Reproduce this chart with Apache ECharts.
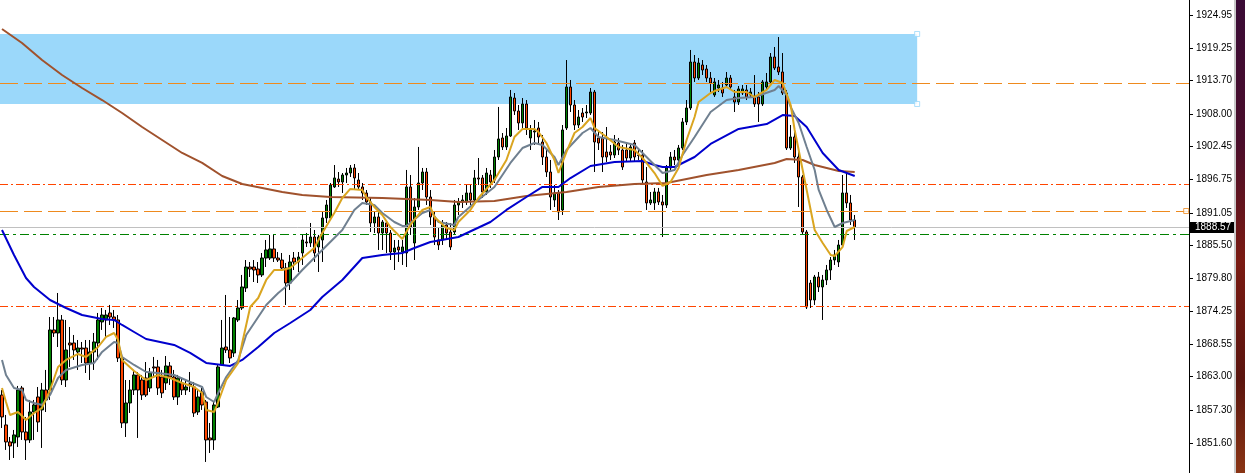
<!DOCTYPE html>
<html><head><meta charset="utf-8">
<script src="https://cdn.jsdelivr.net/npm/echarts@6/dist/echarts.min.js"></script>
<style>html,body{margin:0;padding:0;background:#fff;overflow:hidden}#c{width:1245px;height:473px}</style>
</head><body><div id="c"></div><script>
// ---- candle data (price) ----
const opens=[1859.87,1854.74,1851.83,1851.66,1852.68,1861.07,1853.54,1852.17,1856.96,1859.53,1857.31,1860.73,1860.73,1871.01,1870.49,1872.72,1862.44,1868.78,1868.78,1867.24,1867.92,1867.92,1865.35,1867.24,1868.78,1872.38,1872.72,1873.92,1873.23,1872.72,1866.21,1855.08,1858.50,1860.73,1863.30,1862.44,1862.78,1861.07,1864.67,1864.67,1862.95,1861.93,1864.84,1862.95,1859.53,1861.93,1860.73,1861.76,1861.24,1856.96,1860.39,1858.68,1852.51,1852.17,1857.82,1865.01,1868.09,1867.58,1867.07,1872.72,1874.77,1878.20,1881.79,1881.79,1881.45,1880.43,1883.33,1883.33,1884.88,1883.33,1882.99,1881.62,1879.05,1883.33,1882.65,1884.19,1886.08,1885.91,1886.93,1885.22,1886.42,1890.19,1890.19,1895.50,1896.86,1896.35,1897.55,1897.89,1898.75,1896.69,1895.50,1894.47,1892.93,1889.33,1890.36,1887.62,1889.33,1887.62,1884.36,1885.22,1884.36,1884.19,1895.50,1885.90,1892.07,1896.18,1898.06,1893.78,1890.36,1886.42,1886.42,1888.99,1887.79,1887.79,1892.41,1892.93,1892.93,1894.47,1893.27,1897.04,1897.04,1894.64,1897.55,1896.69,1900.63,1903.89,1902.35,1904.23,1910.73,1908.51,1906.46,1909.71,1903.89,1904.91,1905.60,1903.20,1900.63,1898.06,1893.27,1894.47,1891.56,1905.60,1912.62,1909.54,1906.11,1908.17,1908.17,1908.17,1911.76,1903.89,1903.89,1901.49,1901.49,1900.97,1903.03,1901.83,1901.83,1900.46,1903.03,1900.97,1900.97,1896.35,1892.76,1892.76,1894.64,1892.93,1892.41,1898.75,1900.63,1900.12,1902.17,1906.63,1909.02,1916.90,1914.16,1916.39,1915.70,1914.16,1911.25,1912.45,1912.45,1912.96,1914.16,1910.91,1910.05,1911.59,1912.11,1911.25,1910.91,1910.91,1909.71,1912.62,1913.48,1917.76,1916.05,1915.19,1911.59,1902.17,1904.06,1900.63,1897.21,1887.79,1879.05,1876.14,1880.08,1878.37,1879.57,1881.28,1882.99,1882.65,1885.56,1894.47,1892.76,1889.84];
const closes=[1856.11,1851.83,1851.14,1853.03,1860.73,1853.54,1852.17,1856.96,1858.16,1855.25,1860.73,1859.02,1871.01,1870.49,1872.72,1862.44,1867.58,1868.44,1867.58,1867.92,1867.75,1865.35,1867.24,1868.95,1872.72,1873.57,1873.57,1873.23,1872.72,1866.21,1855.08,1858.50,1860.73,1863.30,1860.73,1859.87,1859.87,1863.64,1864.50,1861.07,1860.22,1864.84,1862.95,1859.53,1862.78,1860.73,1861.24,1861.59,1856.79,1859.53,1858.16,1852.17,1852.17,1858.16,1864.67,1867.92,1867.58,1866.21,1873.06,1874.77,1878.37,1881.79,1881.45,1881.28,1880.43,1883.33,1884.71,1884.88,1883.33,1882.99,1881.62,1879.05,1882.65,1882.65,1883.50,1886.42,1885.91,1886.93,1884.19,1886.93,1890.19,1892.41,1895.84,1897.04,1896.35,1897.55,1897.89,1898.75,1897.04,1895.50,1894.47,1892.93,1889.33,1890.36,1887.62,1889.50,1887.62,1884.36,1885.05,1884.71,1885.22,1895.50,1888.64,1892.07,1896.18,1898.06,1893.78,1890.36,1886.93,1885.56,1888.99,1887.62,1885.22,1892.41,1892.93,1893.27,1894.47,1893.27,1897.04,1896.86,1894.64,1897.89,1896.35,1900.63,1903.72,1902.35,1904.23,1910.91,1908.51,1906.46,1909.71,1905.60,1905.26,1905.09,1904.06,1900.63,1898.06,1893.78,1894.47,1891.21,1905.26,1912.62,1909.54,1906.11,1907.48,1907.48,1908.34,1911.76,1903.20,1903.03,1900.63,1900.63,1900.97,1903.20,1901.83,1898.92,1900.46,1902.35,1900.63,1900.89,1896.69,1892.76,1893.27,1894.64,1892.93,1892.41,1898.75,1900.63,1900.12,1902.17,1906.63,1909.02,1916.90,1914.16,1916.73,1915.53,1914.16,1913.30,1913.48,1912.96,1911.59,1914.16,1912.62,1910.05,1912.28,1912.28,1910.91,1911.76,1909.71,1909.71,1913.48,1913.48,1917.76,1915.87,1915.19,1911.59,1902.17,1904.06,1900.63,1897.21,1887.79,1874.94,1876.14,1880.08,1878.37,1879.57,1881.28,1882.99,1883.85,1885.56,1894.47,1892.76,1889.84,1888.57];
const lows=[1854.22,1850.46,1848.74,1849.08,1850.97,1852.17,1848.74,1851.66,1852.17,1853.54,1850.80,1856.96,1859.02,1869.81,1868.09,1861.59,1861.24,1864.67,1865.87,1864.16,1865.35,1863.64,1862.44,1864.16,1865.87,1871.01,1869.64,1871.86,1871.35,1865.52,1854.22,1852.68,1856.79,1859.87,1852.51,1859.02,1859.53,1860.39,1862.95,1859.87,1859.36,1860.73,1861.59,1859.02,1858.16,1859.87,1859.87,1860.39,1856.11,1856.45,1857.31,1848.40,1849.94,1850.46,1857.65,1865.01,1867.07,1865.35,1866.38,1872.38,1874.43,1877.51,1880.08,1879.22,1879.05,1880.08,1881.79,1882.99,1882.65,1882.65,1881.28,1875.29,1877.86,1881.28,1880.94,1882.14,1885.22,1885.22,1882.65,1880.94,1882.65,1889.33,1889.84,1895.33,1895.50,1894.47,1896.18,1897.21,1894.98,1894.98,1893.27,1892.41,1887.79,1887.62,1884.71,1884.71,1884.19,1882.99,1881.28,1882.65,1882.14,1881.79,1887.28,1882.99,1891.56,1894.98,1892.41,1888.99,1885.56,1884.71,1885.56,1886.42,1884.71,1887.28,1890.70,1891.90,1892.41,1892.41,1892.93,1895.84,1893.61,1894.13,1895.33,1896.18,1900.12,1901.83,1901.83,1904.06,1907.83,1905.26,1905.60,1904.40,1901.83,1902.69,1902.69,1899.26,1897.21,1891.56,1892.07,1889.84,1890.70,1905.26,1908.34,1905.26,1905.60,1906.63,1907.31,1907.83,1898.06,1901.83,1898.06,1899.78,1900.12,1900.46,1900.97,1898.41,1899.78,1899.78,1899.78,1900.12,1896.18,1891.56,1892.41,1891.56,1892.41,1886.93,1891.90,1898.06,1899.26,1899.78,1901.83,1906.11,1908.68,1913.48,1913.82,1914.67,1913.48,1911.59,1910.91,1911.76,1910.91,1912.45,1912.11,1908.34,1909.54,1911.25,1910.39,1910.73,1909.20,1906.63,1909.37,1912.11,1913.13,1915.53,1914.67,1911.25,1901.83,1901.83,1899.61,1892.07,1887.28,1874.60,1874.77,1875.29,1877.51,1872.72,1878.71,1879.57,1882.14,1881.79,1885.05,1891.90,1888.99,1886.42];
const highs=[1860.73,1856.45,1852.68,1853.88,1861.42,1861.42,1856.11,1859.02,1859.02,1861.24,1861.93,1864.16,1873.23,1873.23,1877.34,1873.57,1872.72,1871.52,1870.15,1869.29,1868.95,1869.29,1869.29,1870.49,1873.92,1874.77,1874.43,1875.29,1874.43,1873.57,1866.72,1862.44,1862.44,1864.16,1863.81,1863.30,1865.52,1864.50,1866.38,1865.87,1864.16,1866.55,1865.52,1864.16,1863.30,1862.78,1862.44,1863.81,1862.10,1860.73,1861.07,1859.02,1855.08,1858.68,1865.01,1872.72,1877.00,1873.23,1873.23,1876.14,1880.43,1882.99,1882.65,1882.99,1882.65,1884.19,1886.42,1887.28,1887.28,1884.36,1884.19,1882.48,1883.85,1884.36,1884.36,1887.28,1887.62,1889.33,1888.13,1887.28,1891.21,1893.27,1896.18,1899.26,1898.06,1897.89,1898.75,1899.26,1899.43,1897.89,1896.18,1894.98,1893.78,1891.21,1891.21,1889.84,1889.60,1888.13,1886.42,1886.42,1886.42,1898.41,1897.55,1893.61,1902.35,1898.75,1898.75,1894.98,1891.21,1888.47,1889.84,1889.50,1889.33,1893.27,1893.61,1894.13,1895.84,1895.84,1898.41,1900.46,1897.55,1898.75,1898.41,1901.83,1909.20,1904.74,1905.60,1912.11,1911.59,1909.54,1910.73,1910.39,1906.11,1906.97,1906.63,1904.40,1901.83,1900.12,1895.84,1894.98,1906.11,1917.24,1913.82,1910.39,1908.68,1909.02,1909.54,1912.45,1912.11,1905.26,1904.91,1905.77,1902.69,1904.40,1903.89,1902.69,1903.03,1903.03,1903.54,1902.17,1901.83,1898.92,1894.64,1895.33,1895.33,1894.13,1899.26,1901.49,1901.83,1902.69,1907.31,1910.39,1918.96,1918.10,1917.59,1917.24,1916.39,1915.19,1914.16,1913.82,1913.48,1915.19,1914.67,1912.11,1912.79,1912.96,1912.96,1912.45,1914.67,1911.76,1913.82,1915.02,1918.44,1919.47,1921.18,1918.44,1912.11,1906.11,1905.77,1901.83,1897.55,1888.13,1879.57,1880.43,1880.94,1880.43,1882.14,1883.50,1884.71,1886.42,1897.55,1898.06,1894.13,1890.70];

// ---- moving averages: [bar index, price] ----
const maBrown=[[0,1922.55],[5,1920.16],[10,1917.24],[15,1914.68],[20,1912.45],[25,1910.39],[30,1908.17],[35,1905.77],[40,1903.54],[45,1901.32],[50,1899.61],[55,1897.38],[60,1896.01],[65,1895.32],[70,1894.64],[75,1894.13],[82,1893.78],[95,1893.61],[107,1893.27],[114,1892.93],[123,1893.10],[131,1893.95],[141,1894.64],[149,1895.50],[158,1896.01],[166,1896.18],[176,1897.55],[184,1898.41],[193,1899.61],[196,1900.29],[200,1900.12],[203,1899.26],[209,1898.24],[213,1898.06]];
const maBlue=[[0,1888.13],[3,1883.85],[6,1879.91],[8,1878.37],[12,1876.14],[16,1874.77],[20,1873.57],[25,1872.89],[28,1872.72],[30,1871.86],[33,1870.66],[36,1869.46],[43,1868.44],[47,1867.07],[51,1865.36],[57,1864.84],[60,1865.87],[64,1868.09],[68,1870.49],[72,1872.20],[77,1874.43],[80,1876.66],[85,1879.57],[90,1883.34],[95,1883.85],[100,1884.19],[103,1885.05],[107,1886.08],[114,1886.93],[122,1889.50],[126,1891.56],[131,1893.78],[135,1895.50],[139,1895.50],[142,1897.03],[147,1899.09],[153,1899.78],[160,1899.95],[163,1899.26],[165,1898.92],[168,1898.92],[173,1900.63],[177,1902.86],[184,1905.43],[191,1906.28],[195,1907.82],[198,1907.65],[201,1905.77],[205,1901.32],[209,1898.41],[213,1897.38]];
const maGray=[[0,1865.87],[1,1863.30],[3,1861.07],[5,1860.73],[6,1859.02],[8,1858.50],[10,1858.16],[12,1859.87],[14,1862.78],[16,1864.16],[20,1865.01],[23,1865.35],[25,1867.24],[28,1868.95],[29,1868.78],[30,1866.38],[33,1865.01],[36,1863.81],[39,1863.64],[43,1863.30],[47,1862.10],[50,1861.24],[51,1859.53],[53,1858.67],[54,1860.22],[56,1862.95],[59,1865.87],[61,1870.15],[64,1873.23],[66,1875.29],[69,1877.34],[72,1879.05],[75,1881.28],[80,1884.71],[85,1888.13],[88,1891.56],[90,1892.76],[93,1892.41],[95,1891.04],[98,1889.50],[100,1888.82],[101,1888.82],[105,1891.04],[107,1891.56],[109,1889.50],[113,1888.99],[114,1890.36],[118,1892.76],[123,1895.50],[127,1899.61],[130,1902.17],[133,1903.03],[135,1902.69],[138,1900.63],[139,1899.26],[141,1901.83],[145,1904.74],[147,1905.60],[149,1904.06],[153,1903.54],[158,1902.69],[160,1901.32],[163,1899.26],[165,1897.89],[168,1898.41],[170,1900.97],[173,1904.06],[177,1908.34],[181,1910.39],[184,1910.73],[188,1910.91],[193,1912.11],[194,1912.79],[196,1911.25],[197,1909.20],[199,1906.46],[201,1902.35],[203,1898.41],[204,1894.98],[206,1891.56],[208,1888.64],[210,1889.33],[213,1889.84]];
const maGold=[[0,1861.07],[1,1858.68],[2,1856.45],[4,1856.96],[6,1855.59],[8,1856.79],[10,1857.65],[12,1860.73],[14,1864.67],[16,1865.87],[19,1866.90],[21,1866.38],[24,1868.09],[26,1869.81],[28,1870.49],[29,1869.29],[30,1865.87],[33,1863.98],[36,1862.44],[39,1863.30],[42,1862.78],[45,1861.93],[48,1861.24],[50,1860.22],[51,1857.31],[53,1856.96],[54,1858.67],[56,1862.44],[59,1865.35],[60,1868.78],[62,1874.94],[64,1876.48],[66,1879.57],[68,1881.28],[70,1881.28],[72,1881.62],[75,1883.33],[78,1885.05],[80,1887.62],[83,1891.04],[85,1893.61],[87,1895.16],[90,1894.98],[91,1893.78],[93,1892.07],[95,1890.70],[97,1888.64],[99,1887.28],[100,1886.59],[102,1888.99],[105,1891.56],[107,1892.07],[108,1890.36],[111,1888.47],[113,1888.13],[114,1889.50],[117,1891.56],[119,1893.61],[123,1896.69],[126,1900.12],[128,1904.06],[130,1905.43],[133,1905.43],[134,1904.91],[136,1903.03],[138,1900.12],[139,1897.89],[141,1901.49],[143,1904.74],[145,1905.77],[147,1907.31],[148,1905.60],[151,1904.06],[154,1902.35],[158,1901.83],[160,1900.46],[163,1897.89],[165,1895.67],[167,1896.35],[169,1898.75],[171,1903.54],[173,1907.48],[174,1910.05],[177,1911.59],[178,1911.93],[181,1912.62],[183,1911.76],[186,1911.76],[188,1910.91],[191,1912.11],[193,1913.82],[195,1913.30],[197,1909.54],[198,1905.26],[200,1898.41],[202,1891.56],[203,1888.13],[205,1885.90],[207,1883.85],[208,1883.68],[210,1885.25],[211,1887.96],[213,1888.64]];

// ---- price axis labels and levels ----
const priceTicks=[1924.95,1919.25,1913.70,1908.00,1902.45,1896.75,1891.05,1885.50,1879.80,1874.25,1868.55,1863.00,1857.30,1851.60];
const bidPrice=1888.57;
const dashedLevels=[1913.30,1891.38];
const dashDotLevels=[1896.01,1875.11];
const greenLevel=[1887.45];
const zonePrices=[1921.70,1909.71];
const zoneEndBar=228.6;
const lineHandleBar=295.8;

const TOTAL=297;
const FONT='Liberation Sans, Arial, sans-serif';
const cats=[];for(let i=0;i<TOTAL;i++)cats.push(String(i));
const candles=cats.map((c,i)=>i<opens.length?[opens[i],closes[i],lows[i],highs[i]]:'-');

const marks=[];
dashedLevels.forEach(v=>marks.push({yAxis:v,lineStyle:{color:'#EE8A1E',type:[18,6],width:1}}));
dashDotLevels.forEach(v=>marks.push({yAxis:v,lineStyle:{color:'#FF4500',type:[8,3,2,3],width:1}}));
greenLevel.forEach(v=>marks.push({yAxis:v,lineStyle:{color:'#008000',type:[9,4,3,4],width:1}}));
marks.push({yAxis:bidPrice,lineStyle:{color:'#C0C0C0',type:'solid',width:1},
  label:{show:true,position:'end',distance:1,formatter:()=>bidPrice.toFixed(2),color:'#fff',backgroundColor:'#000',
  fontFamily:FONT,fontSize:10,lineHeight:10,padding:[1,3,0,5]}});

const chart=echarts.init(document.getElementById('c'),null,{renderer:'canvas'});
const lineS=(data,color)=>({type:'line',xAxisIndex:1,yAxisIndex:0,data,showSymbol:false,symbol:'none',
  lineStyle:{color,width:2},z:5,silent:true,animation:false});
chart.setOption({
  animation:false,
  backgroundColor:'#fff',
  grid:{left:0,right:56,top:0,bottom:0,containLabel:false,outerBoundsMode:'none'},
  xAxis:[
    {type:'category',data:cats,boundaryGap:true,show:false},
    {type:'value',min:-0.5,max:TOTAL-0.5,show:false}
  ],
  yAxis:{type:'value',position:'right',min:1846.51,max:1927.52,scale:true,splitLine:{show:false},
    axisLine:{show:true,onZero:false,lineStyle:{color:'#000',width:1}},
    axisTick:{show:true,customValues:priceTicks,length:4,inside:false,lineStyle:{color:'#000'}},
    axisLabel:{show:true,customValues:priceTicks,formatter:v=>v.toFixed(2),margin:7,color:'#000',
      fontFamily:FONT,fontSize:10}},
  series:[
    {type:'scatter',xAxisIndex:1,data:[[zoneEndBar,zonePrices[0]],[zoneEndBar,zonePrices[1]]],symbol:'rect',symbolSize:5,
      itemStyle:{color:'#fff',borderColor:'#9BD8FA',borderWidth:1},z:1,silent:true,
      markArea:{silent:true,itemStyle:{color:'#9BD8FA',opacity:1},
        data:[[{xAxis:-0.5,yAxis:zonePrices[0]},{xAxis:zoneEndBar,yAxis:zonePrices[1]}]]}},
    {type:'candlestick',xAxisIndex:0,data:candles,barWidth:3,z:3,silent:true,
      itemStyle:{color:'#008000',color0:'#FF4500',borderColor:'#000',borderColor0:'#000',borderWidth:1},
      markLine:{silent:true,symbol:['none','none'],label:{show:false},animation:false,data:marks}},
    lineS(maBrown,'#A0522D'),
    lineS(maBlue,'#0000CD'),
    lineS(maGray,'#708090'),
    lineS(maGold,'#DAA520'),
    {type:'scatter',xAxisIndex:1,data:[[lineHandleBar,dashedLevels[1]]],symbol:'rect',symbolSize:5,
      itemStyle:{color:'#fff',borderColor:'#EE8A1E',borderWidth:1},z:6,silent:true}
  ],
  graphic:[
    {type:'rect',shape:{x:1234,y:0,width:2,height:473},style:{fill:'#C8C8C8'},z:10},
    {type:'rect',shape:{x:1236,y:0,width:9,height:473},style:{fill:new echarts.graphic.LinearGradient(0,0,0,1,[
      {offset:0,color:'#3a0b36'},{offset:0.3,color:'#4a0d2a'},{offset:0.55,color:'#7a1a12'},{offset:0.8,color:'#5a140e'},{offset:1,color:'#8a3414'}])},z:10}
  ]
});
</script></body></html>
